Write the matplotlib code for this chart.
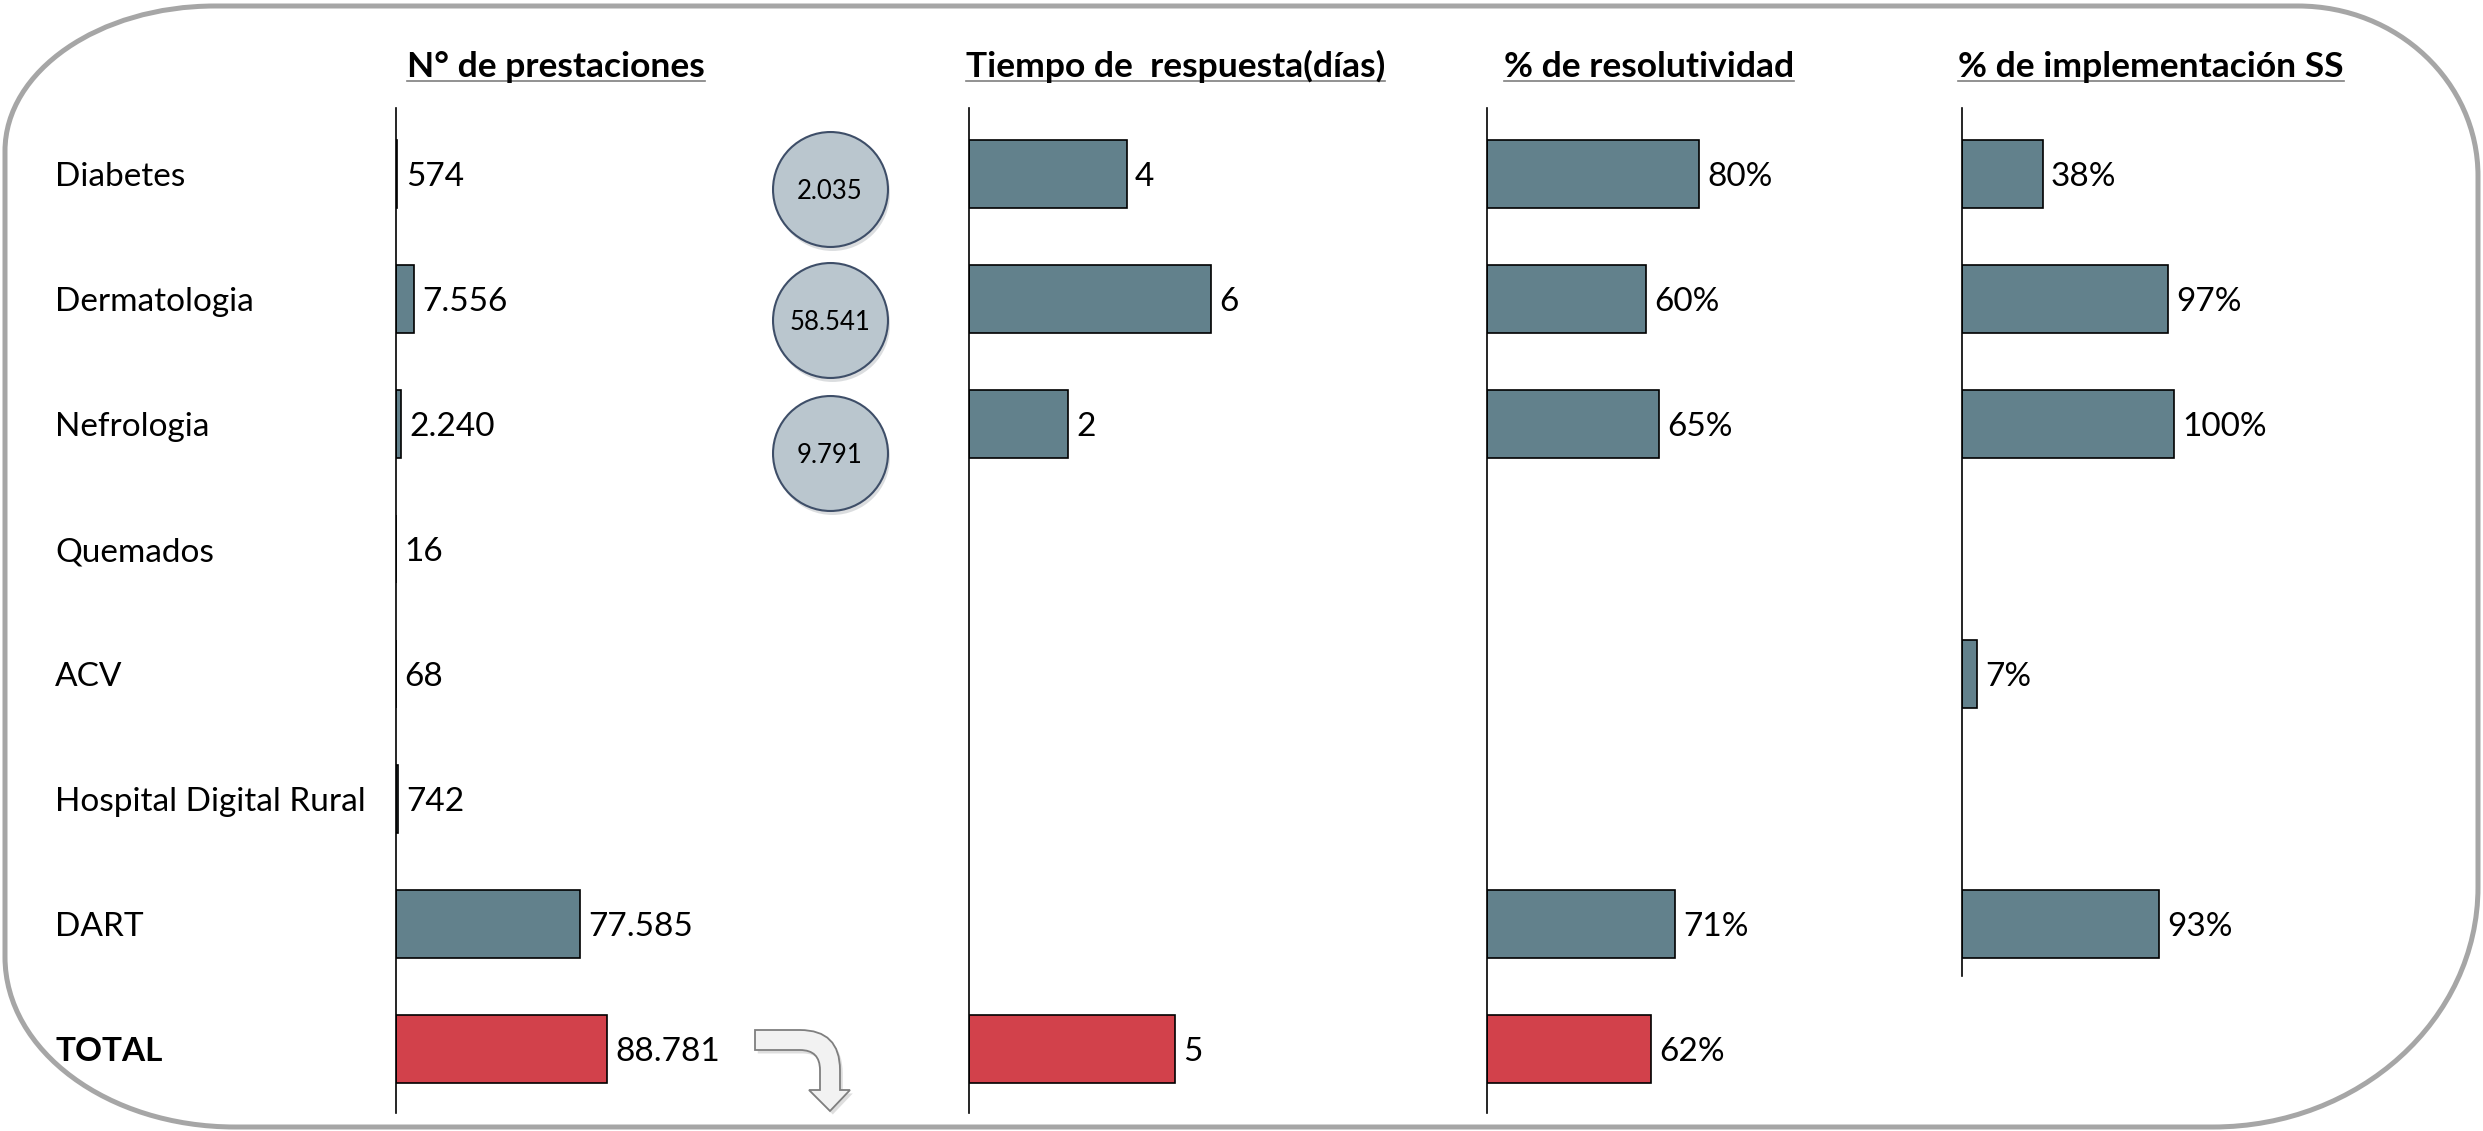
import numpy as np
import matplotlib
matplotlib.use('Agg')
from matplotlib import pyplot as plt
from matplotlib import transforms as mtransforms
from matplotlib.path import Path
from matplotlib.patches import PathPatch
from matplotlib.lines import Line2D

# data
categories = ['Diabetes', 'Dermatologia', 'Nefrologia', 'Quemados', 'ACV',
              'Hospital Digital Rural', 'DART', 'TOTAL']
prestaciones = [574, 7556, 2240, 16, 68, 742, 77585, 88781]
tiempo_dias = [3.9, 6.0, 2.45, np.nan, np.nan, np.nan, np.nan, 5.1]
resolutividad = [80, 60, 65, np.nan, np.nan, np.nan, 71, 62]
implementacion = [38, 97, 100, np.nan, 7, np.nan, 93, np.nan]
burbujas = [2035, 58541, 9791]   # values in the grey circles (Diabetes, Dermatologia, Nefrologia)

titles = ['N° de prestaciones', 'Tiempo de  respuesta(días)',
          '% de resolutividad', '% de implementación SS']

W, H = 2483, 1131
BLUE = '#62818C'
RED = '#D2414B'
FONT = 'Lato'
FS = 24          # labels and values
FS_TITLE = 25.5

plt.rcParams['font.family'] = [FONT, 'DejaVu Sans']

fig = plt.figure(figsize=(W / 100, H / 100), dpi=100)
fig.patch.set_facecolor('white')


def px(x, y):
    # pixel position (y from the top) -> figure fraction
    return x / W, 1 - y / H


def fmt_miles(v):
    return f'{v:,.0f}'.replace(',', '.')


# ---- rounded frame round the whole slide ----
def frame_path(x0, y0, x1, y1, tl, tr, br, bl):
    k = 0.5523
    verts = [px(x0 + tl[0], y0), px(x1 - tr[0], y0),
             px(x1 - tr[0] + k * tr[0], y0), px(x1, y0 + tr[1] - k * tr[1]), px(x1, y0 + tr[1]),
             px(x1, y1 - br[1]),
             px(x1, y1 - br[1] + k * br[1]), px(x1 - br[0] + k * br[0], y1), px(x1 - br[0], y1),
             px(x0 + bl[0], y1),
             px(x0 + bl[0] - k * bl[0], y1), px(x0, y1 - bl[1] + k * bl[1]), px(x0, y1 - bl[1]),
             px(x0, y0 + tl[1]),
             px(x0, y0 + tl[1] - k * tl[1]), px(x0 + tl[0] - k * tl[0], y0), px(x0 + tl[0], y0),
             px(x0 + tl[0], y0)]
    codes = [Path.MOVETO, Path.LINETO,
             Path.CURVE4, Path.CURVE4, Path.CURVE4,
             Path.LINETO,
             Path.CURVE4, Path.CURVE4, Path.CURVE4,
             Path.LINETO,
             Path.CURVE4, Path.CURVE4, Path.CURVE4,
             Path.LINETO,
             Path.CURVE4, Path.CURVE4, Path.CURVE4,
             Path.CLOSEPOLY]
    return Path(verts, codes)


frame = PathPatch(frame_path(5, 6, 2478, 1127, (210, 145), (180, 170), (265, 240), (230, 170)),
                  transform=fig.transFigure, facecolor='none', edgecolor='#A6A6A6', lw=3.6)
fig.patches.append(frame)

# ---- panels ----
row0, row_step = 174, 125          # pixel centre of first row and row spacing
top_px, bot_px = 108, 1113
ylim = (7 + (bot_px - (row0 + 7 * row_step)) / row_step, -(row0 - top_px) / row_step)
base_off = 12                      # px from row centre down to text baseline

panels = [  # (values, axis x px, px per unit, axes width px)
    (prestaciones, 396, 0.002375, 520),
    (tiempo_dias, 969, 40.4, 420),
    (resolutividad, 1487, 2.65, 420),
    (implementacion, 1962, 2.12, 420),
]
label_fmt = [fmt_miles, lambda v: f'{v:.0f}', lambda v: f'{v:.0f}%', lambda v: f'{v:.0f}%']
title_x = [407, 966, 1504, 1958]

y = np.arange(len(categories))
axes = []
for i, (vals, x_px, scale, w_px) in enumerate(panels):
    l, b = px(x_px, bot_px)
    ax = fig.add_axes([l, b, w_px / W, (bot_px - top_px) / H])
    ax.set_xlim(0, w_px / scale)
    ax.set_ylim(*ylim)
    ax.set_facecolor('none')
    vals = np.array(vals, dtype=float)
    ok = ~np.isnan(vals)
    colors = [RED if c == 'TOTAL' else BLUE for c in np.array(categories)[ok]]
    ax.barh(y[ok], vals[ok], height=0.55, color=colors, edgecolor='black', lw=1.2)
    for yi, v in zip(y[ok], vals[ok]):
        ax.annotate(label_fmt[i](v), (v, yi), xytext=(6, -base_off * 0.72),
                    textcoords='offset points', va='baseline', ha='left', fontsize=FS,
                    family=FONT)
    for s in ['top', 'right', 'bottom']:
        ax.spines[s].set_visible(False)
    ax.spines['left'].set_linewidth(1.2)
    ax.set_xticks([])
    ax.set_yticks([])
    axes.append(ax)

# last panel's axis stops below DART
axes[3].spines['left'].set_bounds(6.42, ylim[1])

# category names
for yi, c in zip(y, categories):
    fig.text(*px(55, row0 + yi * row_step + base_off), c, va='baseline', ha='left', fontsize=FS,
             fontweight='bold' if c == 'TOTAL' else 'normal', family=FONT)

# panel titles, bold and underlined
title_texts = []
for tx, t in zip(title_x, titles):
    title_texts.append(fig.text(*px(tx, 77), t, va='baseline', ha='left', fontsize=FS_TITLE,
                                fontweight='bold', family=FONT))
fig.canvas.draw()
for t in title_texts:
    bb = t.get_window_extent()
    line_y = 1 - 81 / H
    fig.add_artist(Line2D([bb.x0 / W, bb.x1 / W], [line_y, line_y], transform=fig.transFigure,
                          color='#7F7F7F', lw=1.2))

# grey circles with the extra numbers next to the first panel
ax1 = axes[0]
circ_x = (830 - 396) / 520
circ_y = [0.12, 1.17, 2.23]
trans = mtransforms.blended_transform_factory(ax1.transAxes, ax1.transData)
shadow = trans + mtransforms.ScaledTranslation(1.5 / 72, -3 / 72, fig.dpi_scale_trans)
ax1.scatter([circ_x] * 3, circ_y, s=6850, color='#9AA0A6', alpha=0.35, lw=0,
            transform=shadow, clip_on=False, zorder=3)
ax1.scatter([circ_x] * 3, circ_y, s=6850, color='#BAC6CE', edgecolor='#3E4E68', lw=1.5,
            transform=trans, clip_on=False, zorder=4)
for cy, v in zip(circ_y, burbujas):
    ax1.text(circ_x, cy, fmt_miles(v), transform=trans, ha='center', va='center_baseline',
             fontsize=18.5, family=FONT, zorder=5)

# bent arrow under the first panel
arrow_px = [(755, 1030), (800, 1030), (840, 1030), (840, 1070), (840, 1090), (850, 1090),
            (830, 1111), (809, 1090), (820, 1090), (820, 1070), (820, 1050), (800, 1050),
            (755, 1050), (755, 1030)]
arrow_codes = [Path.MOVETO, Path.LINETO, Path.CURVE3, Path.CURVE3, Path.LINETO, Path.LINETO,
               Path.LINETO, Path.LINETO, Path.LINETO, Path.LINETO, Path.CURVE3, Path.CURVE3,
               Path.LINETO, Path.CLOSEPOLY]
shift = mtransforms.ScaledTranslation(2 / 72, -2.5 / 72, fig.dpi_scale_trans)
fig.patches.append(PathPatch(Path([px(*p) for p in arrow_px], arrow_codes),
                             transform=fig.transFigure + shift, facecolor='#BFBFBF',
                             edgecolor='none', alpha=0.5))
fig.patches.append(PathPatch(Path([px(*p) for p in arrow_px], arrow_codes),
                             transform=fig.transFigure, facecolor='#F2F2F2',
                             edgecolor='#7F7F7F', lw=1.3))

fig.savefig('out.png', dpi=100, facecolor='white')
